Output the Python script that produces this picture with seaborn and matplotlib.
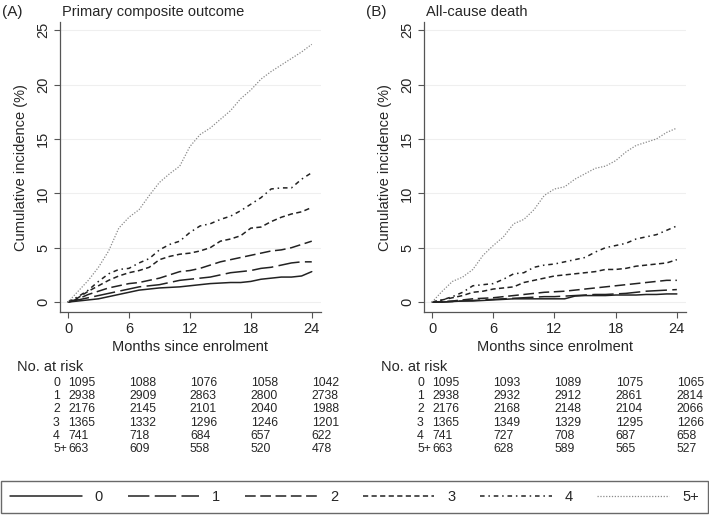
import matplotlib
matplotlib.use("Agg")
import matplotlib.pyplot as plt
import matplotlib.transforms as mtransforms
import seaborn as sns
import pandas as pd

# months since enrolment (x for every curve)
months = list(range(0, 25))
groups = ["0", "1", "2", "3", "4", "5+"]

# (A) primary composite outcome, cumulative incidence (%)
comp_0 = [0, 0.1, 0.2, 0.3, 0.5, 0.7, 0.9, 1.1, 1.2, 1.3, 1.35, 1.4, 1.5, 1.6, 1.7, 1.75, 1.8, 1.8, 1.9, 2.1, 2.2, 2.3, 2.3, 2.4, 2.8]
comp_1 = [0, 0.2, 0.4, 0.6, 0.8, 1.0, 1.2, 1.4, 1.5, 1.6, 1.8, 2.0, 2.1, 2.2, 2.3, 2.5, 2.7, 2.8, 2.9, 3.1, 3.2, 3.4, 3.6, 3.7, 3.7]
comp_2 = [0, 0.3, 0.7, 1.0, 1.3, 1.5, 1.7, 1.8, 2.0, 2.2, 2.5, 2.8, 2.9, 3.1, 3.4, 3.7, 3.9, 4.1, 4.3, 4.5, 4.7, 4.8, 5.0, 5.3, 5.6]
comp_3 = [0, 0.4, 1.0, 1.5, 2.0, 2.4, 2.7, 2.9, 3.2, 3.9, 4.2, 4.4, 4.5, 4.7, 5.0, 5.6, 5.8, 6.1, 6.8, 6.9, 7.4, 7.8, 8.1, 8.3, 8.7]
comp_4 = [0, 0.5, 1.1, 1.9, 2.6, 3.0, 3.1, 3.6, 4.0, 4.8, 5.3, 5.6, 6.4, 7.0, 7.2, 7.6, 7.9, 8.4, 9.0, 9.6, 10.4, 10.5, 10.5, 11.3, 11.9]
comp_5 = [0, 1.0, 2.0, 3.2, 4.7, 6.8, 7.8, 8.5, 9.8, 11.0, 11.8, 12.5, 14.3, 15.4, 16.0, 16.8, 17.6, 18.7, 19.5, 20.5, 21.2, 21.8, 22.4, 23.0, 23.7]

# (B) all-cause death, cumulative incidence (%)
death_0 = [0, 0, 0.05, 0.1, 0.1, 0.15, 0.2, 0.25, 0.3, 0.3, 0.3, 0.3, 0.3, 0.3, 0.55, 0.6, 0.6, 0.6, 0.65, 0.65, 0.65, 0.7, 0.7, 0.75, 0.75]
death_1 = [0, 0, 0.05, 0.1, 0.15, 0.2, 0.25, 0.3, 0.35, 0.4, 0.45, 0.5, 0.5, 0.55, 0.6, 0.65, 0.7, 0.7, 0.75, 0.8, 0.9, 1.0, 1.05, 1.1, 1.15]
death_2 = [0, 0.05, 0.1, 0.2, 0.3, 0.35, 0.4, 0.5, 0.6, 0.7, 0.8, 0.9, 0.95, 1.0, 1.1, 1.2, 1.3, 1.4, 1.5, 1.6, 1.7, 1.8, 1.9, 2.0, 2.0]
death_3 = [0, 0.2, 0.4, 0.6, 0.9, 1.0, 1.2, 1.3, 1.4, 1.8, 2.0, 2.2, 2.4, 2.5, 2.6, 2.7, 2.8, 3.0, 3.0, 3.1, 3.3, 3.4, 3.5, 3.6, 3.9]
death_4 = [0, 0.2, 0.5, 0.9, 1.5, 1.6, 1.7, 2.1, 2.6, 2.7, 3.2, 3.4, 3.5, 3.7, 3.9, 4.1, 4.6, 5.0, 5.2, 5.4, 5.8, 6.0, 6.2, 6.6, 7.0]
death_5 = [0, 1.0, 1.9, 2.3, 3.0, 4.3, 5.2, 6.0, 7.2, 7.6, 8.5, 9.8, 10.4, 10.6, 11.3, 11.8, 12.3, 12.5, 13.0, 13.8, 14.4, 14.7, 15.0, 15.6, 16.0]

# number at risk at 0, 6, 12, 18, 24 months
risk_months = [0, 6, 12, 18, 24]
risk_comp = [
    [1095, 1088, 1076, 1058, 1042],
    [2938, 2909, 2863, 2800, 2738],
    [2176, 2145, 2101, 2040, 1988],
    [1365, 1332, 1296, 1246, 1201],
    [741, 718, 684, 657, 622],
    [663, 609, 558, 520, 478],
]
risk_death = [
    [1095, 1093, 1089, 1075, 1065],
    [2938, 2932, 2912, 2861, 2814],
    [2176, 2168, 2148, 2104, 2066],
    [1365, 1349, 1329, 1295, 1266],
    [741, 727, 708, 687, 658],
    [663, 628, 589, 565, 527],
]

sns.set_style("white")
plt.rcParams["font.family"] = ["Liberation Sans", "DejaVu Sans"]

palette = {"0": "#222222", "1": "#222222", "2": "#222222",
           "3": "#222222", "4": "#222222", "5+": "#8a8a8a"}
dashes = {"0": "", "1": (14, 3.5), "2": (7, 3), "3": (3.4, 2.2),
          "4": (3, 2.5, 1, 2.5), "5+": (1, 1.3)}


def long_frame(series):
    rows = []
    for g, vals in zip(groups, series):
        for m, v in zip(months, vals):
            rows.append({"month": m, "inc": v, "group": g})
    return pd.DataFrame(rows)


fig = plt.figure(figsize=(7.09, 5.15), dpi=100)
ax_a = fig.add_axes([0.0846, 0.394, 0.368, 0.563])
ax_b = fig.add_axes([0.598, 0.394, 0.3696, 0.563])

panels = [
    (ax_a, [comp_0, comp_1, comp_2, comp_3, comp_4, comp_5], risk_comp,
     "(A)", "Primary composite outcome"),
    (ax_b, [death_0, death_1, death_2, death_3, death_4, death_5], risk_death,
     "(B)", "All-cause death"),
]

for ax, series, risk, tag, title in panels:
    df = long_frame(series)
    sns.lineplot(data=df, x="month", y="inc", hue="group", style="group",
                 palette=palette, dashes=dashes, hue_order=groups,
                 style_order=groups, linewidth=1.1,
                 legend=False, ax=ax)
    # the 5+ line is thinner
    ax.get_lines()[5].set_linewidth(0.9)

    ax.set_xlim(-0.79, 24.9)
    ax.set_ylim(-0.92, 25.74)
    ax.set_xticks([0, 6, 12, 18, 24])
    ax.set_yticks([0, 5, 10, 15, 20, 25])
    for y in [0, 5, 10, 15, 20, 25]:
        ax.axhline(y, color="#efefef", lw=0.8, zorder=0)
    ax.tick_params(axis="both", direction="out", length=4, width=0.8,
                   color="#555555", labelsize=10.5, pad=3,
                   bottom=True, left=True)
    for lab in ax.get_yticklabels():
        lab.set_rotation(90)
        lab.set_va("center")
    sns.despine(ax=ax)
    for s in ["left", "bottom"]:
        ax.spines[s].set_color("#555555")
        ax.spines[s].set_linewidth(0.9)
    ax.set_xlabel("Months since enrolment", fontsize=10.5, labelpad=3)
    ax.set_ylabel("Cumulative incidence (%)", fontsize=10.5, labelpad=6)

    # panel tag and title
    bb = ax.get_position()
    fig.text(bb.x0 - 0.082, 0.977, tag, fontsize=11, va="center", ha="left")
    fig.text(bb.x0 + 0.003, 0.977, title, fontsize=10.5, va="center", ha="left")

    # number at risk table
    tr = mtransforms.blended_transform_factory(ax.transData, fig.transFigure)
    fig.text(bb.x0 - 0.061, 1 - 367 / 515, "No. at risk", fontsize=10.5,
             va="center", ha="left")
    row_y = [383, 396, 409, 422.5, 436, 449]
    for g, counts, py in zip(groups, risk, row_y):
        yy = 1 - py / 515
        ax.text(-1.47, yy, g, transform=tr, fontsize=8.8, va="center",
                ha="left")
        for m, c in zip(risk_months, counts):
            ax.text(m, yy, str(c), transform=tr, fontsize=8.8,
                    va="center", ha="left")

handles = ax_a.get_lines()[:6]
leg = fig.legend(handles, groups, loc="lower left",
                 bbox_to_anchor=(0.002, 0.004, 0.996, 0.066), mode="expand",
                 ncol=6, frameon=True, fancybox=False, fontsize=10.5,
                 handlelength=4.9, handletextpad=0.9, borderaxespad=0,
                 borderpad=0.6, columnspacing=1.0)
leg.get_frame().set_edgecolor("#444444")
leg.get_frame().set_linewidth(1.0)

fig.savefig("out.png", dpi=100)
